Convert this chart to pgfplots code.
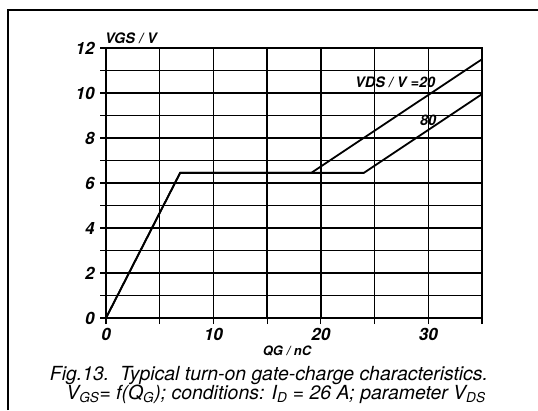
\documentclass[border=0pt]{standalone}
\usepackage{fontspec}
\setmainfont{TeX Gyre Heros}
\usepackage{pgfplots}
\pgfplotsset{compat=1.18}

\begin{document}
\begin{tikzpicture}[x=1bp,y=1bp]
\path[use as bounding box] (0,0) rectangle (538,410);
% frame of the figure (top and left edge only)
\draw[line width=1.8bp] (8,0) -- (8,400) -- (538,400);

\begin{axis}[
  at={(106bp,92bp)}, anchor=south west,
  scale only axis, width=376bp, height=270bp,
  xmin=0, xmax=35, ymin=0, ymax=12,
  xtick={0,10,20,30}, minor xtick={5,15,25,35},
  ytick={0,2,...,12}, minor ytick={1,3,...,11},
  grid=both,
  major grid style={black, line width=1.3bp},
  minor grid style={black, line width=1.3bp},
  axis line style={line width=1.5bp},
  tick pos=left, tick align=outside,
  major tick length=6bp, minor tick length=6bp,
  tick style={black, line width=1.2bp},
  ticklabel style={font=\fontsize{17}{17}\selectfont\bfseries\itshape},
  /pgf/number format/assume math mode=true,
  yticklabel style={xshift=-2bp},
  xticklabel style={yshift=-1bp},
]
\addplot[black, line width=1.8bp] coordinates {
  (0,0) (6.9,6.45) (19.1,6.45) (35,11.5)
};
\addplot[black, line width=1.8bp] coordinates {
  (0,0) (6.9,6.45) (24.0,6.45) (35,9.95)
};
\end{axis}

\begin{scope}[every node/.style={inner sep=0pt}]
\node[anchor=base west, font=\fontsize{14.5}{14.5}\selectfont\bfseries\itshape] at (105,367) {VGS / V};
\node[anchor=base, font=\fontsize{13}{13}\selectfont\bfseries\itshape] at (287,55) {QG / nC};
\node[anchor=base west, font=\fontsize{14.5}{14.5}\selectfont\bfseries\itshape] at (355,323) {VDS / V =20};
\node[anchor=base west, font=\fontsize{14.5}{14.5}\selectfont\bfseries\itshape] at (420,285) {80};
\node[anchor=base, font=\fontsize{19.5}{19.5}\selectfont\itshape] at (269,30) {Fig.13.\ \ Typical turn-on gate-charge characteristics.};
\node[anchor=base, font=\fontsize{19.5}{19.5}\selectfont\itshape] at (276,11) {V\textsubscript{GS}= f(Q\textsubscript{G}); conditions: I\textsubscript{D} = 26 A; parameter V\textsubscript{DS}};
\end{scope}
\end{tikzpicture}
\end{document}
